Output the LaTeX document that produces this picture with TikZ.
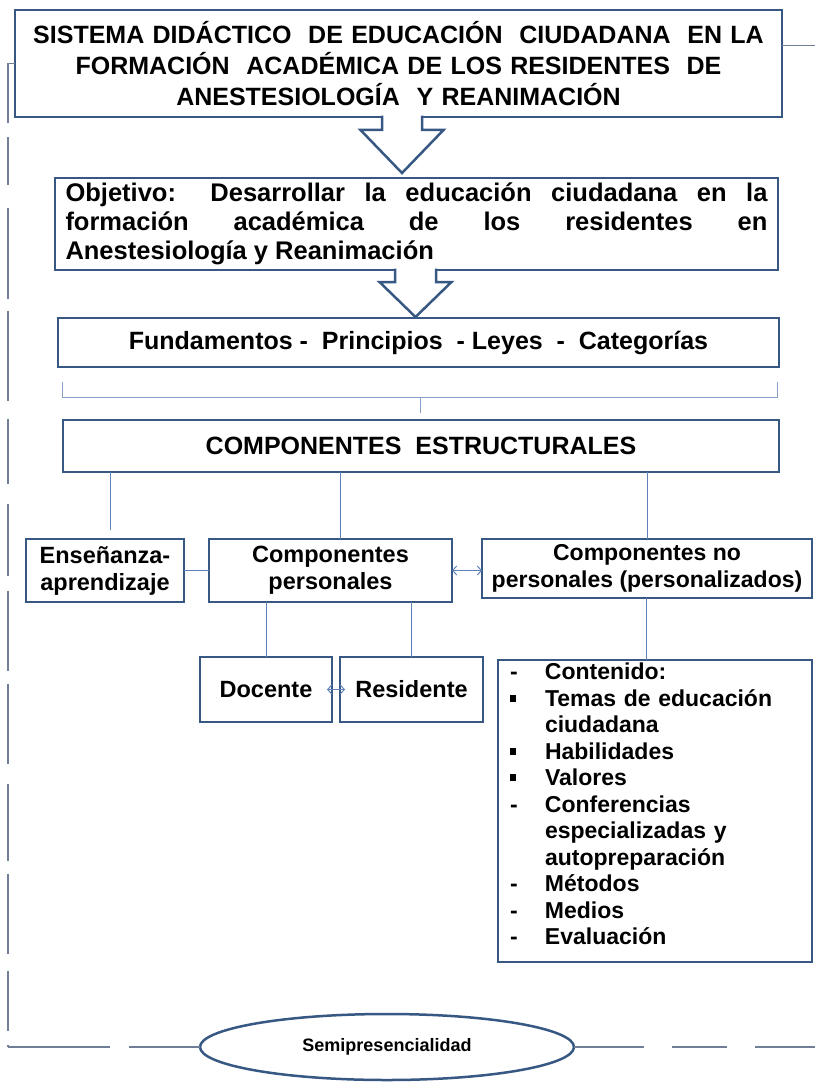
\documentclass[tikz,border=0pt]{standalone}
\usepackage{fontspec}
\setmainfont{Liberation Sans}
\usetikzlibrary{positioning,shapes.geometric,arrows.meta}

\definecolor{borde}{RGB}{56,88,132}
\definecolor{enlace}{RGB}{95,130,185}
\definecolor{marcoazul}{RGB}{112,126,152}

\newcommand{\cuadrito}{\rule[0.2em]{0.27em}{0.3em}}

\begin{document}
\begin{tikzpicture}[x=1pt, y=1pt, >={Straight Barb[length=4pt,width=9pt]},
    bloque/.style={
        rectangle,
        draw=borde,
        line width=2.5pt,
        fill=white,
        inner sep=4pt,
        outer sep=0pt,
        align=center,
        font=\bfseries
        },
    conector/.style={draw=enlace, line width=1pt},
    marco/.style={draw=marcoazul, line width=1.2pt},
    flechabloque/.style={draw=borde, line width=2.5pt, fill=white, line join=miter}]

    \useasboundingbox (0,0) rectangle (814,-1091);

    \node (titulo) [bloque, minimum width=767pt, minimum height=107pt, text width=755pt,
        font=\bfseries\fontsize{25}{31}\selectfont] at (398.5,-63.5)
        {SISTEMA DIDÁCTICO \ DE EDUCACIÓN \ CIUDADANA \ EN LA\\
         FORMACIÓN \ ACADÉMICA DE LOS RESIDENTES \ DE\\
         ANESTESIOLOGÍA \ Y REANIMACIÓN};
    \node (objetivo) [bloque, below=61pt of titulo, xshift=18pt, minimum width=723pt,
        minimum height=92pt, text width=702pt, align=justify,
        font=\bfseries\fontsize{25.5}{29}\selectfont]
        {Objetivo: Desarrollar la educación ciudadana en la\linebreak
         formación académica de los residentes en\linebreak
         Anestesiología y Reanimación};
    \node (fundamentos) [bloque, below=48pt of objetivo, xshift=2pt, minimum width=721pt,
        minimum height=49pt, font=\bfseries\fontsize{25}{28}\selectfont]
        {Fundamentos - \ Principios \ - Leyes \ - \ Categorías};
    \node (estructura) [bloque, below=53pt of fundamentos, xshift=2.5pt, minimum width=716pt,
        minimum height=52pt, font=\bfseries\fontsize{25}{28}\selectfont]
        {COMPONENTES \ ESTRUCTURALES};

    \node (personales) [bloque, below=67pt of estructura, xshift=-90.5pt, minimum width=243pt,
        minimum height=63pt, font=\bfseries\fontsize{23.5}{27}\selectfont]
        {Componentes\\personales};
    \node (ensenanza) [bloque, left=25pt of personales, minimum width=158pt,
        minimum height=63pt, font=\bfseries\fontsize{23.5}{27}\selectfont]
        {Enseñanza-\\aprendizaje};
    \node (nopersonales) [bloque, right=30pt of personales.north east, anchor=north west,
        minimum width=330pt, minimum height=59pt, font=\bfseries\fontsize{23}{27}\selectfont]
        {Componentes no\\personales (personalizados)};

    \node (docente) [bloque, below=55pt of personales.south west, anchor=north west, xshift=-9pt,
        minimum width=132pt, minimum height=65pt, font=\bfseries\fontsize{23.5}{27}\selectfont]
        {Docente};
    \node (residente) [bloque, right=8pt of docente, minimum width=143pt,
        minimum height=65pt, font=\bfseries\fontsize{23.5}{27}\selectfont]
        {Residente};
    \node (contenido) [bloque, right=15pt of residente.north east, anchor=north west, yshift=-3pt,
        minimum width=314pt, minimum height=302pt, text width=290pt, inner ysep=0pt, align=left,
        font=\bfseries\fontsize{23}{26.5}\selectfont]
        {\begin{tabular}{@{}p{35pt}@{}l@{}}
         - & Contenido:\\
         \cuadrito & Temas de educación\\
           & ciudadana\\
         \cuadrito & Habilidades\\
         \cuadrito & Valores\\
         - & Conferencias\\
           & especializadas y\\
           & autopreparación\\
         - & Métodos\\
         - & Medios\\
         - & Evaluación\\[8pt]
         \end{tabular}};

    \node (semi) [ellipse, draw=borde, line width=2.5pt, fill=white, minimum width=374pt,
        minimum height=66pt, inner sep=0pt, outer sep=0pt, font=\bfseries\fontsize{18}{22}\selectfont]
        at (387,-1047) {Semipresencialidad};

    % flechas de bloque
    \draw[flechabloque] ([xshift=3.5pt]titulo.south) ++(-20,1.3) -- ++(0,-14.3) -- ++(-21.5,0)
        -- ++(41.5,-43) -- ++(41.5,43) -- ++(-21.5,0) -- ++(0,14.3);
    \draw[flechabloque] ([xshift=-1pt]objetivo.south) ++(-20.5,1.3) -- ++(0,-13.3) -- ++(-15.5,0)
        -- ++(36,-35) -- ++(36,35) -- ++(-15.5,0) -- ++(0,13.3);

    % llave
    \coordinate (llave_i) at (62,-382);
    \coordinate (llave_d) at (777,-382);
    \coordinate (llave_c) at (420,-397);
    \draw[conector, draw=enlace!75] (llave_i) -- ++(0,-15) -| (llave_d);
    \draw[conector, draw=enlace!75, shorten >=7pt] (llave_c) -- (llave_c |- estructura.north);

    % conectores
    \draw[conector, shorten >=9pt] ([xshift=5pt]ensenanza.north |- estructura.south) -- ([xshift=5pt]ensenanza.north);
    \draw[conector] ([xshift=9.5pt]personales.north |- estructura.south) -- ([xshift=9.5pt]personales.north);
    \draw[conector] (nopersonales.north |- estructura.south) -- (nopersonales.north);
    \draw[conector] (ensenanza) -- (personales);
    \draw[conector, <->] (personales.east) -- (personales.east -| nopersonales.west);
    \draw[conector] (docente.north |- personales.south) -- (docente.north);
    \draw[conector] (residente.north |- personales.south) -- (residente.north);
    \draw[conector] ([xshift=-1pt]nopersonales.south) -- ([xshift=-1pt]nopersonales.south |- contenido.north);
    \draw[conector, <->, shorten <=-5pt, shorten >=-5pt] (docente) -- (residente);

    % marco exterior
    \coordinate (esq_si) at ([xshift=-7pt]titulo.west);
    \coordinate (esq_ii) at (esq_si |- semi.west);
    \coordinate (esq_sd) at ([xshift=45pt,yshift=18pt]titulo.east);
    \coordinate (esq_id) at (esq_sd |- semi.east);
    \draw[marco] (titulo.west) -- (esq_si);
    \draw[marco, dash pattern=on 60pt off 14pt on 48pt off 23pt on 90pt off 12pt on 90pt off 18pt
        on 65pt off 20pt on 72pt off 15pt on 80pt off 13pt on 80pt off 20pt on 77pt off 13pt
        on 80pt off 17pt] (esq_si) -- (esq_ii);
    \draw[marco, dash pattern=on 102pt off 19pt] (esq_ii) -- (semi.west);
    \draw[marco] (titulo.east |- esq_sd) -- (esq_sd) -- (esq_id);
    \draw[marco, dash pattern=on 70pt off 28pt on 55pt off 28pt] (semi.east) -- (esq_id);
\end{tikzpicture}
\end{document}
